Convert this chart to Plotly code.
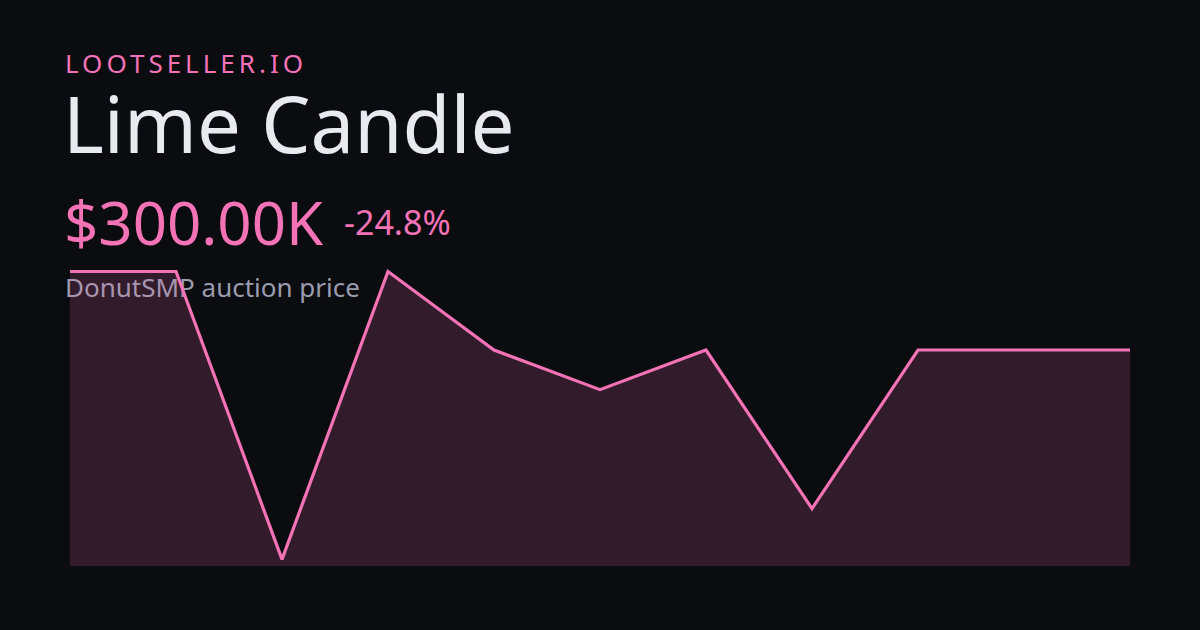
import plotly.graph_objects as go

# Data (prices in thousands of $)
points = list(range(11))
prices_k = [399, 399, 36, 399, 300, 250, 300, 100, 300, 300, 300]
brand = "LOOTSELLER.IO"
item_name = "Lime Candle"
price_label = "$300.00K"
change_label = "-24.8%"
subtitle = "DonutSMP auction price"

BG = "#0b0c10"
PINK = "#f472b6"
FILL = "rgba(244,114,182,0.17)"
TITLE_C = "#e9eaef"
SUB_C = "#9a9cae"
FONT = "Noto Sans"

W, H = 1200, 630
plot_left, plot_right = 70, 1130
plot_top, plot_bottom = 260, 566

fig = go.Figure()

# full-canvas subplot: subtitle text (drawn beneath the chart layer)
fig.add_trace(go.Scatter(
    x=[65], y=[290.5], mode="text", text=[subtitle],
    textposition="middle right", cliponaxis=False,
    textfont=dict(family=FONT, size=26, color=SUB_C),
    hoverinfo="skip", showlegend=False, xaxis="x", yaxis="y",
))

# chart subplot: area + line
fig.add_trace(go.Scatter(
    x=points, y=prices_k, mode="lines", fill="tozeroy",
    fillcolor=FILL, line=dict(color=PINK, width=3.2),
    hoverinfo="skip", showlegend=False, xaxis="x2", yaxis="y2",
))

hidden = dict(visible=False, showgrid=False, zeroline=False, fixedrange=True)

fig.update_layout(
    width=W, height=H,
    margin=dict(l=0, r=0, t=0, b=0),
    paper_bgcolor=BG, plot_bgcolor="rgba(0,0,0,0)",
    xaxis=dict(domain=[0, 1], range=[0, W], **hidden),
    yaxis=dict(domain=[0, 1], range=[H, 0], **hidden),
    xaxis2=dict(domain=[plot_left / W, plot_right / W], range=[0, 10],
                anchor="y2", **hidden),
    yaxis2=dict(domain=[(H - plot_bottom) / H, (H - plot_top) / H],
                range=[27.6, 413.5], anchor="x2", **hidden),
    annotations=[
        dict(text=f'<span style="letter-spacing:4px">{brand}</span>',
             x=63 / W, y=1 - 63.5 / H, xref="paper", yref="paper",
             xanchor="left", yanchor="middle", showarrow=False,
             font=dict(family=FONT, size=26, color=PINK)),
        dict(text=item_name, x=61 / W, y=1 - 123 / H, xref="paper", yref="paper",
             xanchor="left", yanchor="middle", showarrow=False,
             font=dict(family=FONT, size=78, color=TITLE_C)),
        dict(text=price_label, x=62 / W, y=1 - 221.5 / H, xref="paper", yref="paper",
             xanchor="left", yanchor="middle", showarrow=False,
             font=dict(family=FONT, size=60, color=PINK)),
        dict(text=change_label, x=342 / W, y=1 - 222 / H, xref="paper", yref="paper",
             xanchor="left", yanchor="middle", showarrow=False,
             font=dict(family=FONT, size=34, color=PINK)),
    ],
)

fig.write_html(
    "out.html",
    config={"displayModeBar": False},
    post_script="document.body.style.margin='0';document.body.style.overflow='hidden';",
)
